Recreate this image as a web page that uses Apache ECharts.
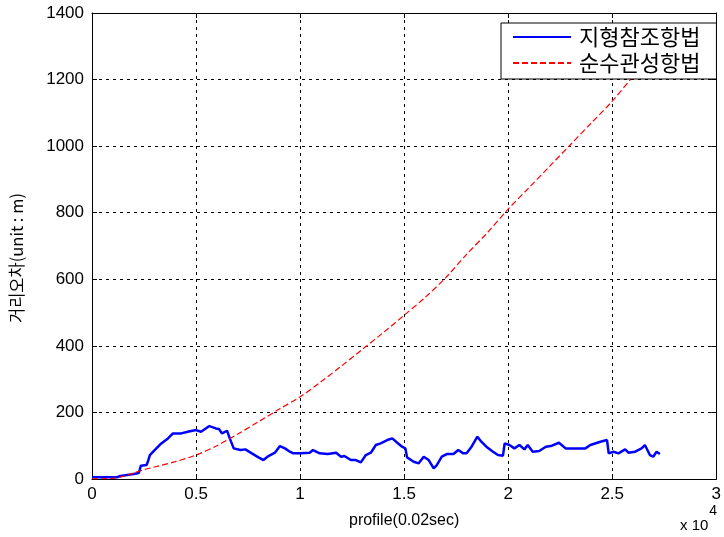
<!DOCTYPE html>
<html>
<head>
<meta charset="utf-8">
<script src="https://cdn.jsdelivr.net/npm/echarts@6/dist/echarts.min.js"></script>
<style>html,body{margin:0;padding:0;background:#fff}#c{width:724px;height:537px}</style>
</head>
<body>
<div id="c"></div>
<script>
var seriesNames = ['지형참조항법', '순수관성항법'];
var yAxisTitle = '거리오차(unit : m)';
var xAxisTitle = 'profile(0.02sec)';
var xTicks = [0, 5000, 10000, 15000, 20000, 25000, 30000];
var yTicks = [0, 200, 400, 600, 800, 1000, 1200, 1400];

var blueX = [0,1200,1300,2000,2250,2350,2620,2700,2780,2940,3330,3650,3890,4290,4600,5000,5240,5640,5950,6100,6250,6490,6620,6810,7130,7370,7680,8000,8240,8480,8790,9030,9270,9510,9670,9990,10460,10620,10940,11330,11730,11970,12130,12440,12680,12920,13160,13400,13640,13870,14190,14430,14670,14900,15060,15140,15460,15700,15940,16180,16420,16570,16810,17050,17370,17600,17840,18000,18240,18520,18710,18950,19270,19510,19750,19830,20060,20300,20540,20780,20940,21180,21490,21810,22050,22440,22760,23710,23950,24030,24430,24750,24830,25060,25300,25620,25780,26100,26410,26570,26810,26970,27130,27290];
var blueY = [5,5,8,15,18,40,42,55,72,82,107,122,137,137,142,147,142,159,152,150,137,145,122,92,87,89,77,65,57,69,79,99,92,82,77,77,79,87,77,75,79,67,69,57,57,50,72,79,102,107,117,122,109,97,92,65,52,47,67,57,32,42,67,75,75,87,77,77,97,127,112,97,82,72,70,107,102,92,102,89,102,82,84,97,99,109,92,92,102,107,112,117,77,82,77,89,79,82,92,102,72,67,82,75];

var redX = [0,1000,1500,2000,2500,3000,4000,5000,6000,7000,8000,9000,10000,11000,12000,13000,14000,15000,16000,17000,18000,19000,20000,21000,22000,23000,24000,25000,26000,27000,27300];
var redY = [0,2,8,18,28,36,52,72,100,135,172,210,247,292,340,390,440,492,545,605,675,740,811,875,940,1005,1070,1135,1210,1285,1310];

function pairs(xs, ys){ return xs.map(function(x,i){ return [x, ys[i]]; }); }

var chart = echarts.init(document.getElementById('c'), null, {renderer:'canvas'});
var tickFont = {fontFamily:'Liberation Sans, Arial, sans-serif', fontSize:17, color:'#000'};
chart.setOption({
  animation:false,
  backgroundColor:'#fff',
  grid:{left:92, right:2, top:13, bottom:58, containLabel:false},
  legend:{
    data:seriesNames, orient:'vertical', left:501, top:23,
    padding:[3,16,5,11], itemGap:4, itemWidth:58, itemHeight:22,
    backgroundColor:'#fff', borderColor:'#000', borderWidth:1,
    itemStyle:{opacity:0, color:'rgba(0,0,0,0)', borderWidth:0},
    textStyle:{fontFamily:'Noto Sans CJK KR, sans-serif', fontSize:22, color:'#000', padding:[0,0,0,3]}
  },
  xAxis:[{
    type:'value', min:0, max:30000, interval:5000,
    name:xAxisTitle, nameLocation:'middle', nameGap:34,
    nameTextStyle:{fontFamily:'Liberation Sans, Arial, sans-serif', fontSize:16, color:'#000'},
    axisLine:{show:true, onZero:false, lineStyle:{color:'#000', width:1}},
    axisTick:{show:true, inside:true, length:5, lineStyle:{color:'#000'}},
    axisLabel:Object.assign({margin:7, showMaxLabel:true, showMinLabel:true, formatter:function(v){return String(v/10000);}}, tickFont),
    splitLine:{show:true, lineStyle:{color:'#000', type:[3,4], width:1}}
  },{
    type:'value', min:0, max:30000, interval:5000, position:'top',
    axisLine:{show:true, onZero:false, lineStyle:{color:'#000', width:1}},
    axisTick:{show:true, inside:true, length:5, lineStyle:{color:'#000'}},
    axisLabel:{show:false}, splitLine:{show:false}
  }],
  yAxis:[{
    type:'value', min:0, max:1400, interval:200,
    axisLine:{show:true, onZero:false, lineStyle:{color:'#000', width:1}},
    axisTick:{show:true, inside:true, length:5, lineStyle:{color:'#000'}},
    axisLabel:Object.assign({margin:8, formatter:function(v){return String(v);}}, tickFont),
    splitLine:{show:true, lineStyle:{color:'#000', type:[3,4], width:1}}
  },{
    type:'value', min:0, max:1400, interval:200, position:'right',
    axisLine:{show:true, onZero:false, lineStyle:{color:'#000', width:1}},
    axisTick:{show:true, inside:true, length:5, lineStyle:{color:'#000'}},
    axisLabel:{show:false}, splitLine:{show:false}
  }],
  graphic:[{
    type:'text', x:17, y:258, rotation:Math.PI/2,
    style:{text:yAxisTitle, fontFamily:'Noto Sans CJK KR, sans-serif', fontSize:16.5, fill:'#000', align:'center', verticalAlign:'middle'}
  },{
    type:'text', left:680, top:504,
    style:{
      text:'{a|x 10}{b|4}',
      rich:{
        a:{fontFamily:'Liberation Sans, Arial, sans-serif', fontSize:15, fill:'#000', padding:[14,0,0,0]},
        b:{fontFamily:'Liberation Sans, Arial, sans-serif', fontSize:14, fill:'#000', verticalAlign:'top', padding:[0,0,0,1]}
      }
    }
  }],
  series:[{
    name:seriesNames[0], type:'line', xAxisIndex:0, yAxisIndex:0,
    data:pairs(blueX, blueY), showSymbol:false, symbol:'none',
    lineStyle:{color:'#0000ff', width:2.5}, itemStyle:{color:'#0000ff'}
  },{
    name:seriesNames[1], type:'line', xAxisIndex:0, yAxisIndex:0,
    data:pairs(redX, redY), showSymbol:false, symbol:'none', smooth:0.3,
    lineStyle:{color:'#ff0000', width:1.2, type:[6,3]}, itemStyle:{color:'#ff0000'}
  }]
});
</script>
</body>
</html>
